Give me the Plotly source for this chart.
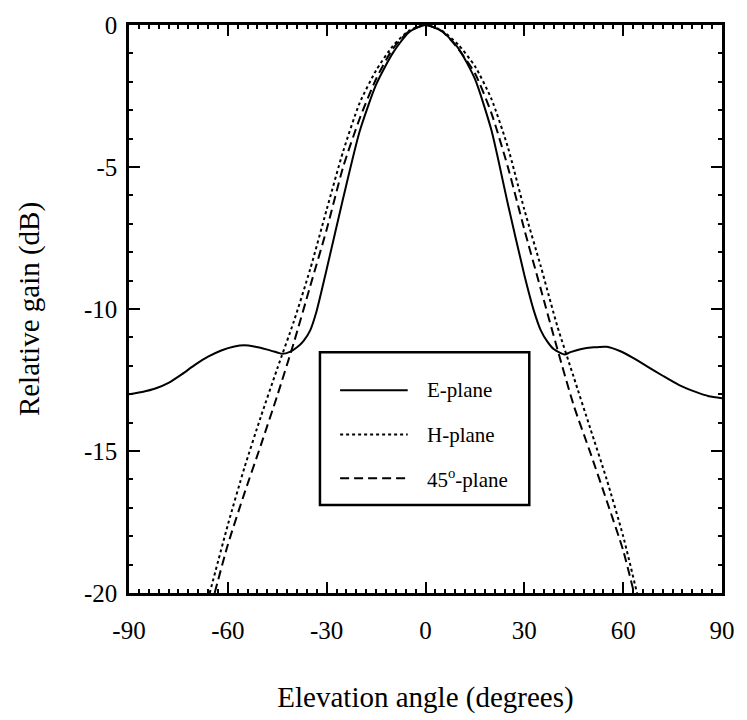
import plotly.graph_objects as go

# Radiation pattern cuts: elevation angle (degrees) vs relative gain (dB)
e_angle = [-90, -86, -82, -78, -74, -70, -66, -62, -58, -55, -52, -48, -45, -43.5,
           -41, -39, -37, -35, -33, -30, -25, -20, -15, -10, -5, 0, 5, 10, 15, 20,
           25, 30, 33, 35, 37, 39, 42.2, 44, 47, 51, 55, 59, 63, 67, 72, 77,
           82, 86, 90]
e_gain = [-13.0, -12.92, -12.8, -12.6, -12.3, -11.97, -11.68, -11.46, -11.32, -11.28,
          -11.32, -11.43, -11.53, -11.58, -11.5, -11.35, -11.12, -10.75, -10.05, -8.6,
          -6.1, -3.75, -2.1, -1.0, -0.25, 0.0, -0.22, -0.82, -1.9, -3.7,
          -6.3, -8.8, -10.1, -10.75, -11.15, -11.42, -11.6, -11.52, -11.42,
          -11.35, -11.33, -11.48, -11.72, -12.0, -12.35, -12.68, -12.92, -13.07, -13.14]

h_angle = [-65.5, -60, -55, -50, -45, -40, -35, -30, -25, -20, -15, -10, -5, 0,
           5, 10, 15, 20, 25, 30, 35, 40, 45, 50, 55, 60, 64.2]
h_gain = [-20.0, -17.6, -15.6, -13.8, -12.1, -10.45, -8.6, -6.5, -4.45, -2.75, -1.6,
          -0.75, -0.2, 0.0, -0.2, -0.7, -1.45, -2.6, -4.3, -6.5, -8.5, -10.6, -12.4,
          -14.2, -16.0, -18.0, -20.0]

d_angle = [-64, -60, -55, -50, -45, -40, -35, -30, -25, -20, -15, -10, -5, 0,
           5, 10, 15, 20, 25, 30, 35, 40, 45, 50, 55, 60, 63.3]
d_gain = [-20.0, -18.3, -16.5, -14.8, -13.05, -11.2, -9.2, -7.2, -5.0, -3.3, -1.9,
          -0.85, -0.22, 0.0, -0.22, -0.85, -1.7, -3.1, -5.0, -7.2, -9.3, -11.4, -13.4,
          -15.05, -16.75, -18.5, -20.0]

x_tickvals = [-90, -60, -30, 0, 30, 60, 90]
x_ticktext = ["-90", "-60", "-30", "0", "30", "60", "90"]
y_tickvals = [0, -5, -10, -15, -20]
y_ticktext = ["0", "-5", "-10", "-15", "-20"]

series_names = ["E-plane", "H-plane", "45<sup>o</sup>-plane"]
series_dash = ["solid", "3px,3px", "9px,5px"]

FONT = "Liberation Serif, Times New Roman, serif"

fig = go.Figure()
for ang, gain, dash in zip([e_angle, h_angle, d_angle], [e_gain, h_gain, d_gain], series_dash):
    fig.add_trace(go.Scatter(
        x=ang, y=gain, mode="lines",
        line=dict(color="black", width=2, dash=dash, shape="spline", smoothing=0.6),
        showlegend=False, hoverinfo="skip",
    ))

axis_common = dict(
    showgrid=False, zeroline=False,
    showline=True, linecolor="black", linewidth=2.5, mirror="ticks",
    ticks="inside", ticklen=11, tickwidth=2, tickcolor="black",
    tickfont=dict(family=FONT, size=25, color="black"),
)

fig.update_xaxes(
    range=[-90, 90], tickvals=x_tickvals, ticktext=x_ticktext,
    minor=dict(dtick=3, ticks="inside", ticklen=4, tickwidth=2, tickcolor="black"),
    ticklabelstandoff=13,
    title=dict(text="Elevation angle (degrees)", standoff=44,
               font=dict(family=FONT, size=29, color="black")),
    **axis_common,
)
fig.update_yaxes(
    range=[-20, 0], tickvals=y_tickvals, ticktext=y_ticktext,
    minor=dict(dtick=1, ticks="inside", ticklen=4, tickwidth=2, tickcolor="black"),
    ticklabelstandoff=4,
    title=dict(text="Relative gain (dB)", standoff=36,
               font=dict(family=FONT, size=29, color="black")),
    **axis_common,
)

# Legend box drawn in paper coordinates
box_x0, box_x1 = 0.322, 0.675
box_y0, box_y1 = 0.155, 0.424
sample_x0, sample_x1 = 0.356, 0.470
text_x = 0.499
row_y = [0.357, 0.279, 0.202]

fig.add_shape(type="rect", xref="paper", yref="paper",
              x0=box_x0, x1=box_x1, y0=box_y0, y1=box_y1,
              line=dict(color="black", width=2.5), fillcolor="white", layer="above")
for name, dash, yy in zip(series_names, series_dash, row_y):
    fig.add_shape(type="line", xref="paper", yref="paper",
                  x0=sample_x0, x1=sample_x1, y0=yy, y1=yy,
                  line=dict(color="black", width=2, dash=dash), layer="above")
    fig.add_annotation(x=text_x, y=yy, xref="paper", yref="paper",
                       text=name, showarrow=False, xanchor="left", yanchor="middle",
                       font=dict(family=FONT, size=21, color="black"))

fig.update_layout(
    width=747, height=720,
    margin=dict(l=129, r=22, t=22, b=118),
    paper_bgcolor="white", plot_bgcolor="white",
)

fig.write_html("out.html")
